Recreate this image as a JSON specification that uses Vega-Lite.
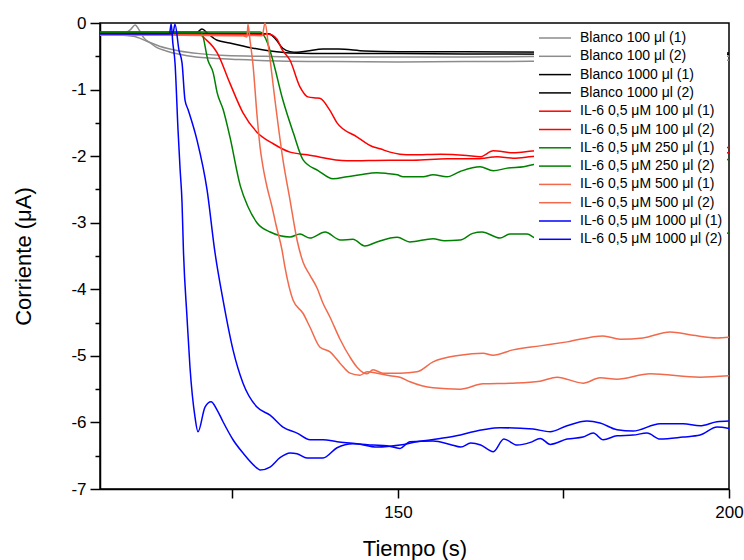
{
"$schema": "https://vega.github.io/schema/vega-lite/v6.json",
"width": 629, "height": 466,
"autosize": {"type": "none"},
"padding": {"left": 100, "top": 23, "right": 15, "bottom": 71},
"background": "white",
"config": {"view": {"stroke": "black", "strokeWidth": 1.5}, "font": "Liberation Sans"},
"data": {"values": [
{"s":"Blanco 100 μl (1)","t":105,"v":-0.15},{"s":"Blanco 100 μl (1)","t":108.5,"v":-0.15},{"s":"Blanco 100 μl (1)","t":109.6,"v":-0.1},{"s":"Blanco 100 μl (1)","t":110.3,"v":-0.03},{"s":"Blanco 100 μl (1)","t":111.0,"v":-0.12},{"s":"Blanco 100 μl (1)","t":111.6,"v":-0.22},{"s":"Blanco 100 μl (1)","t":112.6,"v":-0.3},{"s":"Blanco 100 μl (1)","t":113.6,"v":-0.37},{"s":"Blanco 100 μl (1)","t":115,"v":-0.42},{"s":"Blanco 100 μl (1)","t":117,"v":-0.47},{"s":"Blanco 100 μl (1)","t":119.5,"v":-0.51},{"s":"Blanco 100 μl (1)","t":122,"v":-0.53},{"s":"Blanco 100 μl (1)","t":126,"v":-0.55},{"s":"Blanco 100 μl (1)","t":132,"v":-0.57},{"s":"Blanco 100 μl (1)","t":140,"v":-0.58},{"s":"Blanco 100 μl (1)","t":150,"v":-0.585},{"s":"Blanco 100 μl (1)","t":160,"v":-0.58},{"s":"Blanco 100 μl (1)","t":170,"v":-0.575},{"s":"Blanco 100 μl (1)","t":180,"v":-0.57},{"s":"Blanco 100 μl (1)","t":190,"v":-0.565},{"s":"Blanco 100 μl (1)","t":200,"v":-0.56},
{"s":"Blanco 100 μl (2)","t":105,"v":-0.17},{"s":"Blanco 100 μl (2)","t":110,"v":-0.2},{"s":"Blanco 100 μl (2)","t":112,"v":-0.27},{"s":"Blanco 100 μl (2)","t":114,"v":-0.35},{"s":"Blanco 100 μl (2)","t":117,"v":-0.42},{"s":"Blanco 100 μl (2)","t":120,"v":-0.46},{"s":"Blanco 100 μl (2)","t":124,"v":-0.49},{"s":"Blanco 100 μl (2)","t":130,"v":-0.5},{"s":"Blanco 100 μl (2)","t":140,"v":-0.51},{"s":"Blanco 100 μl (2)","t":160,"v":-0.51},{"s":"Blanco 100 μl (2)","t":180,"v":-0.5},{"s":"Blanco 100 μl (2)","t":200,"v":-0.5},
{"s":"Blanco 1000 μl (1)","t":105,"v":-0.15},{"s":"Blanco 1000 μl (1)","t":119.5,"v":-0.15},{"s":"Blanco 1000 μl (1)","t":120.4,"v":-0.09},{"s":"Blanco 1000 μl (1)","t":121.3,"v":-0.16},{"s":"Blanco 1000 μl (1)","t":122.7,"v":-0.26},{"s":"Blanco 1000 μl (1)","t":124.6,"v":-0.3},{"s":"Blanco 1000 μl (1)","t":127.2,"v":-0.36},{"s":"Blanco 1000 μl (1)","t":130.7,"v":-0.42},{"s":"Blanco 1000 μl (1)","t":133.7,"v":-0.45},{"s":"Blanco 1000 μl (1)","t":140,"v":-0.46},{"s":"Blanco 1000 μl (1)","t":150,"v":-0.46},{"s":"Blanco 1000 μl (1)","t":160,"v":-0.465},{"s":"Blanco 1000 μl (1)","t":175,"v":-0.47},{"s":"Blanco 1000 μl (1)","t":190,"v":-0.47},{"s":"Blanco 1000 μl (1)","t":200,"v":-0.47},
{"s":"Blanco 1000 μl (2)","t":105,"v":-0.15},{"s":"Blanco 1000 μl (2)","t":130.5,"v":-0.16},{"s":"Blanco 1000 μl (2)","t":131.5,"v":-0.24},{"s":"Blanco 1000 μl (2)","t":132.6,"v":-0.38},{"s":"Blanco 1000 μl (2)","t":133.7,"v":-0.43},{"s":"Blanco 1000 μl (2)","t":134.8,"v":-0.44},{"s":"Blanco 1000 μl (2)","t":136.3,"v":-0.42},{"s":"Blanco 1000 μl (2)","t":138.7,"v":-0.39},{"s":"Blanco 1000 μl (2)","t":141,"v":-0.39},{"s":"Blanco 1000 μl (2)","t":145,"v":-0.42},{"s":"Blanco 1000 μl (2)","t":150,"v":-0.43},{"s":"Blanco 1000 μl (2)","t":160,"v":-0.43},{"s":"Blanco 1000 μl (2)","t":175,"v":-0.44},{"s":"Blanco 1000 μl (2)","t":190,"v":-0.44},{"s":"Blanco 1000 μl (2)","t":200,"v":-0.45},
{"s":"IL-6 0,5 μM 100 μl (1)","t":105,"v":-0.17},{"s":"IL-6 0,5 μM 100 μl (1)","t":130.5,"v":-0.17},{"s":"IL-6 0,5 μM 100 μl (1)","t":131.7,"v":-0.24},{"s":"IL-6 0,5 μM 100 μl (1)","t":132.5,"v":-0.4},{"s":"IL-6 0,5 μM 100 μl (1)","t":133.7,"v":-0.56},{"s":"IL-6 0,5 μM 100 μl (1)","t":135.2,"v":-0.96},{"s":"IL-6 0,5 μM 100 μl (1)","t":136.4,"v":-1.11},{"s":"IL-6 0,5 μM 100 μl (1)","t":137.5,"v":-1.125},{"s":"IL-6 0,5 μM 100 μl (1)","t":138.2,"v":-1.13},{"s":"IL-6 0,5 μM 100 μl (1)","t":139.7,"v":-1.31},{"s":"IL-6 0,5 μM 100 μl (1)","t":140.8,"v":-1.5},{"s":"IL-6 0,5 μM 100 μl (1)","t":143.8,"v":-1.71},{"s":"IL-6 0,5 μM 100 μl (1)","t":146.2,"v":-1.86},{"s":"IL-6 0,5 μM 100 μl (1)","t":147.3,"v":-1.89},{"s":"IL-6 0,5 μM 100 μl (1)","t":148.8,"v":-1.94},{"s":"IL-6 0,5 μM 100 μl (1)","t":150.3,"v":-1.97},{"s":"IL-6 0,5 μM 100 μl (1)","t":152.3,"v":-1.98},{"s":"IL-6 0,5 μM 100 μl (1)","t":156.4,"v":-1.97},{"s":"IL-6 0,5 μM 100 μl (1)","t":160.4,"v":-1.99},{"s":"IL-6 0,5 μM 100 μl (1)","t":162.4,"v":-2.01},{"s":"IL-6 0,5 μM 100 μl (1)","t":164.4,"v":-1.92},{"s":"IL-6 0,5 μM 100 μl (1)","t":167.4,"v":-1.95},{"s":"IL-6 0,5 μM 100 μl (1)","t":171,"v":-1.92},{"s":"IL-6 0,5 μM 100 μl (1)","t":180,"v":-1.91},{"s":"IL-6 0,5 μM 100 μl (1)","t":190,"v":-1.89},{"s":"IL-6 0,5 μM 100 μl (1)","t":200,"v":-1.87},
{"s":"IL-6 0,5 μM 100 μl (2)","t":105,"v":-0.17},{"s":"IL-6 0,5 μM 100 μl (2)","t":120,"v":-0.17},{"s":"IL-6 0,5 μM 100 μl (2)","t":120.9,"v":-0.24},{"s":"IL-6 0,5 μM 100 μl (2)","t":122.1,"v":-0.36},{"s":"IL-6 0,5 μM 100 μl (2)","t":122.7,"v":-0.45},{"s":"IL-6 0,5 μM 100 μl (2)","t":124.6,"v":-0.9},{"s":"IL-6 0,5 μM 100 μl (2)","t":126.6,"v":-1.35},{"s":"IL-6 0,5 μM 100 μl (2)","t":128.7,"v":-1.64},{"s":"IL-6 0,5 μM 100 μl (2)","t":131.1,"v":-1.81},{"s":"IL-6 0,5 μM 100 μl (2)","t":133.7,"v":-1.94},{"s":"IL-6 0,5 μM 100 μl (2)","t":136.3,"v":-1.98},{"s":"IL-6 0,5 μM 100 μl (2)","t":142.3,"v":-2.07},{"s":"IL-6 0,5 μM 100 μl (2)","t":148.8,"v":-2.06},{"s":"IL-6 0,5 μM 100 μl (2)","t":152.3,"v":-2.06},{"s":"IL-6 0,5 μM 100 μl (2)","t":157.4,"v":-2.04},{"s":"IL-6 0,5 μM 100 μl (2)","t":162,"v":-2.04},{"s":"IL-6 0,5 μM 100 μl (2)","t":165,"v":-2.01},{"s":"IL-6 0,5 μM 100 μl (2)","t":167.4,"v":-2.03},{"s":"IL-6 0,5 μM 100 μl (2)","t":171,"v":-2.0},{"s":"IL-6 0,5 μM 100 μl (2)","t":180,"v":-1.99},{"s":"IL-6 0,5 μM 100 μl (2)","t":190,"v":-1.97},{"s":"IL-6 0,5 μM 100 μl (2)","t":200,"v":-1.95},
{"s":"IL-6 0,5 μM 250 μl (1)","t":105,"v":-0.135},{"s":"IL-6 0,5 μM 250 μl (1)","t":120,"v":-0.135},{"s":"IL-6 0,5 μM 250 μl (1)","t":120.4,"v":-0.16},{"s":"IL-6 0,5 μM 250 μl (1)","t":121.3,"v":-0.56},{"s":"IL-6 0,5 μM 250 μl (1)","t":122.1,"v":-0.75},{"s":"IL-6 0,5 μM 250 μl (1)","t":122.7,"v":-1.05},{"s":"IL-6 0,5 μM 250 μl (1)","t":123.6,"v":-1.3},{"s":"IL-6 0,5 μM 250 μl (1)","t":124.6,"v":-1.7},{"s":"IL-6 0,5 μM 250 μl (1)","t":126.2,"v":-2.45},{"s":"IL-6 0,5 μM 250 μl (1)","t":127.3,"v":-2.75},{"s":"IL-6 0,5 μM 250 μl (1)","t":128.7,"v":-3.0},{"s":"IL-6 0,5 μM 250 μl (1)","t":130.7,"v":-3.14},{"s":"IL-6 0,5 μM 250 μl (1)","t":133.7,"v":-3.215},{"s":"IL-6 0,5 μM 250 μl (1)","t":135.2,"v":-3.17},{"s":"IL-6 0,5 μM 250 μl (1)","t":136.7,"v":-3.23},{"s":"IL-6 0,5 μM 250 μl (1)","t":139,"v":-3.14},{"s":"IL-6 0,5 μM 250 μl (1)","t":141.3,"v":-3.26},{"s":"IL-6 0,5 μM 250 μl (1)","t":143.2,"v":-3.25},{"s":"IL-6 0,5 μM 250 μl (1)","t":145.0,"v":-3.35},{"s":"IL-6 0,5 μM 250 μl (1)","t":146.8,"v":-3.29},{"s":"IL-6 0,5 μM 250 μl (1)","t":149.9,"v":-3.22},{"s":"IL-6 0,5 μM 250 μl (1)","t":151.8,"v":-3.29},{"s":"IL-6 0,5 μM 250 μl (1)","t":155.3,"v":-3.24},{"s":"IL-6 0,5 μM 250 μl (1)","t":157,"v":-3.27},{"s":"IL-6 0,5 μM 250 μl (1)","t":159.4,"v":-3.26},{"s":"IL-6 0,5 μM 250 μl (1)","t":161.3,"v":-3.16},{"s":"IL-6 0,5 μM 250 μl (1)","t":162.7,"v":-3.14},{"s":"IL-6 0,5 μM 250 μl (1)","t":165.4,"v":-3.23},{"s":"IL-6 0,5 μM 250 μl (1)","t":166.9,"v":-3.17},{"s":"IL-6 0,5 μM 250 μl (1)","t":169.5,"v":-3.17},{"s":"IL-6 0,5 μM 250 μl (1)","t":171,"v":-3.24},{"s":"IL-6 0,5 μM 250 μl (1)","t":175,"v":-3.2},{"s":"IL-6 0,5 μM 250 μl (1)","t":180,"v":-3.18},{"s":"IL-6 0,5 μM 250 μl (1)","t":185,"v":-3.22},{"s":"IL-6 0,5 μM 250 μl (1)","t":190,"v":-3.17},{"s":"IL-6 0,5 μM 250 μl (1)","t":195,"v":-3.19},{"s":"IL-6 0,5 μM 250 μl (1)","t":200,"v":-3.155},
{"s":"IL-6 0,5 μM 250 μl (2)","t":105,"v":-0.135},{"s":"IL-6 0,5 μM 250 μl (2)","t":129.2,"v":-0.135},{"s":"IL-6 0,5 μM 250 μl (2)","t":130.3,"v":-0.3},{"s":"IL-6 0,5 μM 250 μl (2)","t":131.1,"v":-0.56},{"s":"IL-6 0,5 μM 250 μl (2)","t":132.6,"v":-1.15},{"s":"IL-6 0,5 μM 250 μl (2)","t":134.2,"v":-1.65},{"s":"IL-6 0,5 μM 250 μl (2)","t":135.7,"v":-2.06},{"s":"IL-6 0,5 μM 250 μl (2)","t":138,"v":-2.22},{"s":"IL-6 0,5 μM 250 μl (2)","t":140.2,"v":-2.34},{"s":"IL-6 0,5 μM 250 μl (2)","t":142.3,"v":-2.31},{"s":"IL-6 0,5 μM 250 μl (2)","t":144.3,"v":-2.28},{"s":"IL-6 0,5 μM 250 μl (2)","t":146.8,"v":-2.25},{"s":"IL-6 0,5 μM 250 μl (2)","t":148.3,"v":-2.26},{"s":"IL-6 0,5 μM 250 μl (2)","t":149.9,"v":-2.28},{"s":"IL-6 0,5 μM 250 μl (2)","t":150.8,"v":-2.31},{"s":"IL-6 0,5 μM 250 μl (2)","t":153.8,"v":-2.31},{"s":"IL-6 0,5 μM 250 μl (2)","t":155.3,"v":-2.28},{"s":"IL-6 0,5 μM 250 μl (2)","t":157.4,"v":-2.31},{"s":"IL-6 0,5 μM 250 μl (2)","t":159.4,"v":-2.23},{"s":"IL-6 0,5 μM 250 μl (2)","t":162.4,"v":-2.16},{"s":"IL-6 0,5 μM 250 μl (2)","t":164.4,"v":-2.22},{"s":"IL-6 0,5 μM 250 μl (2)","t":166.5,"v":-2.18},{"s":"IL-6 0,5 μM 250 μl (2)","t":169,"v":-2.16},{"s":"IL-6 0,5 μM 250 μl (2)","t":171,"v":-2.12},{"s":"IL-6 0,5 μM 250 μl (2)","t":180,"v":-2.12},{"s":"IL-6 0,5 μM 250 μl (2)","t":190,"v":-2.1},{"s":"IL-6 0,5 μM 250 μl (2)","t":200,"v":-2.05},
{"s":"IL-6 0,5 μM 500 μl (1)","t":105,"v":-0.18},{"s":"IL-6 0,5 μM 500 μl (1)","t":126.6,"v":-0.19},{"s":"IL-6 0,5 μM 500 μl (1)","t":127.2,"v":-0.21},{"s":"IL-6 0,5 μM 500 μl (1)","t":127.35,"v":-0.02},{"s":"IL-6 0,5 μM 500 μl (1)","t":127.66,"v":-0.26},{"s":"IL-6 0,5 μM 500 μl (1)","t":128.11,"v":-0.63},{"s":"IL-6 0,5 μM 500 μl (1)","t":128.71,"v":-1.38},{"s":"IL-6 0,5 μM 500 μl (1)","t":129.17,"v":-1.86},{"s":"IL-6 0,5 μM 500 μl (1)","t":129.62,"v":-2.16},{"s":"IL-6 0,5 μM 500 μl (1)","t":130.22,"v":-2.46},{"s":"IL-6 0,5 μM 500 μl (1)","t":130.98,"v":-2.76},{"s":"IL-6 0,5 μM 500 μl (1)","t":131.58,"v":-3.03},{"s":"IL-6 0,5 μM 500 μl (1)","t":132.49,"v":-3.41},{"s":"IL-6 0,5 μM 500 μl (1)","t":132.94,"v":-3.67},{"s":"IL-6 0,5 μM 500 μl (1)","t":134.15,"v":-4.16},{"s":"IL-6 0,5 μM 500 μl (1)","t":135.66,"v":-4.36},{"s":"IL-6 0,5 μM 500 μl (1)","t":136.72,"v":-4.57},{"s":"IL-6 0,5 μM 500 μl (1)","t":138.23,"v":-4.87},{"s":"IL-6 0,5 μM 500 μl (1)","t":139.74,"v":-4.94},{"s":"IL-6 0,5 μM 500 μl (1)","t":141.25,"v":-5.11},{"s":"IL-6 0,5 μM 500 μl (1)","t":142.76,"v":-5.26},{"s":"IL-6 0,5 μM 500 μl (1)","t":144.27,"v":-5.29},{"s":"IL-6 0,5 μM 500 μl (1)","t":145.33,"v":-5.24},{"s":"IL-6 0,5 μM 500 μl (1)","t":146.84,"v":-5.26},{"s":"IL-6 0,5 μM 500 μl (1)","t":148.8,"v":-5.3},{"s":"IL-6 0,5 μM 500 μl (1)","t":150.31,"v":-5.32},{"s":"IL-6 0,5 μM 500 μl (1)","t":151.82,"v":-5.39},{"s":"IL-6 0,5 μM 500 μl (1)","t":155.3,"v":-5.48},{"s":"IL-6 0,5 μM 500 μl (1)","t":159.38,"v":-5.5},{"s":"IL-6 0,5 μM 500 μl (1)","t":162.85,"v":-5.42},{"s":"IL-6 0,5 μM 500 μl (1)","t":167.38,"v":-5.41},{"s":"IL-6 0,5 μM 500 μl (1)","t":171.46,"v":-5.38},{"s":"IL-6 0,5 μM 500 μl (1)","t":174.03,"v":-5.32},{"s":"IL-6 0,5 μM 500 μl (1)","t":177.96,"v":-5.41},{"s":"IL-6 0,5 μM 500 μl (1)","t":180.53,"v":-5.33},{"s":"IL-6 0,5 μM 500 μl (1)","t":183.09,"v":-5.35},{"s":"IL-6 0,5 μM 500 μl (1)","t":188.08,"v":-5.27},{"s":"IL-6 0,5 μM 500 μl (1)","t":195.63,"v":-5.32},{"s":"IL-6 0,5 μM 500 μl (1)","t":200,"v":-5.3},
{"s":"IL-6 0,5 μM 500 μl (2)","t":105,"v":-0.18},{"s":"IL-6 0,5 μM 500 μl (2)","t":129.5,"v":-0.19},{"s":"IL-6 0,5 μM 500 μl (2)","t":129.92,"v":0.0},{"s":"IL-6 0,5 μM 500 μl (2)","t":130.5,"v":-0.4},{"s":"IL-6 0,5 μM 500 μl (2)","t":131.43,"v":-1.16},{"s":"IL-6 0,5 μM 500 μl (2)","t":132.64,"v":-2.06},{"s":"IL-6 0,5 μM 500 μl (2)","t":133.7,"v":-2.66},{"s":"IL-6 0,5 μM 500 μl (2)","t":134.76,"v":-3.26},{"s":"IL-6 0,5 μM 500 μl (2)","t":135.66,"v":-3.59},{"s":"IL-6 0,5 μM 500 μl (2)","t":136.72,"v":-3.79},{"s":"IL-6 0,5 μM 500 μl (2)","t":137.78,"v":-3.98},{"s":"IL-6 0,5 μM 500 μl (2)","t":138.68,"v":-4.21},{"s":"IL-6 0,5 μM 500 μl (2)","t":139.74,"v":-4.42},{"s":"IL-6 0,5 μM 500 μl (2)","t":141.25,"v":-4.75},{"s":"IL-6 0,5 μM 500 μl (2)","t":142.76,"v":-5.02},{"s":"IL-6 0,5 μM 500 μl (2)","t":143.82,"v":-5.17},{"s":"IL-6 0,5 μM 500 μl (2)","t":145.33,"v":-5.27},{"s":"IL-6 0,5 μM 500 μl (2)","t":146.24,"v":-5.21},{"s":"IL-6 0,5 μM 500 μl (2)","t":147.75,"v":-5.26},{"s":"IL-6 0,5 μM 500 μl (2)","t":150.31,"v":-5.26},{"s":"IL-6 0,5 μM 500 μl (2)","t":152.88,"v":-5.24},{"s":"IL-6 0,5 μM 500 μl (2)","t":155.3,"v":-5.09},{"s":"IL-6 0,5 μM 500 μl (2)","t":159.38,"v":-4.99},{"s":"IL-6 0,5 μM 500 μl (2)","t":162.85,"v":-4.96},{"s":"IL-6 0,5 μM 500 μl (2)","t":164.36,"v":-4.99},{"s":"IL-6 0,5 μM 500 μl (2)","t":167.38,"v":-4.91},{"s":"IL-6 0,5 μM 500 μl (2)","t":171.46,"v":-4.85},{"s":"IL-6 0,5 μM 500 μl (2)","t":175.54,"v":-4.79},{"s":"IL-6 0,5 μM 500 μl (2)","t":180.98,"v":-4.7},{"s":"IL-6 0,5 μM 500 μl (2)","t":183.55,"v":-4.75},{"s":"IL-6 0,5 μM 500 μl (2)","t":187.02,"v":-4.73},{"s":"IL-6 0,5 μM 500 μl (2)","t":191.1,"v":-4.64},{"s":"IL-6 0,5 μM 500 μl (2)","t":194.57,"v":-4.69},{"s":"IL-6 0,5 μM 500 μl (2)","t":198.2,"v":-4.73},{"s":"IL-6 0,5 μM 500 μl (2)","t":200,"v":-4.72},
{"s":"IL-6 0,5 μM 1000 μl (1)","t":105,"v":-0.16},{"s":"IL-6 0,5 μM 1000 μl (1)","t":115.5,"v":-0.16},{"s":"IL-6 0,5 μM 1000 μl (1)","t":115.75,"v":-0.01},{"s":"IL-6 0,5 μM 1000 μl (1)","t":116.0,"v":-0.3},{"s":"IL-6 0,5 μM 1000 μl (1)","t":116.33,"v":-0.6},{"s":"IL-6 0,5 μM 1000 μl (1)","t":116.78,"v":-1.6},{"s":"IL-6 0,5 μM 1000 μl (1)","t":117.1,"v":-2.2},{"s":"IL-6 0,5 μM 1000 μl (1)","t":117.39,"v":-2.7},{"s":"IL-6 0,5 μM 1000 μl (1)","t":117.6,"v":-3.41},{"s":"IL-6 0,5 μM 1000 μl (1)","t":118.14,"v":-4.42},{"s":"IL-6 0,5 μM 1000 μl (1)","t":118.59,"v":-5.17},{"s":"IL-6 0,5 μM 1000 μl (1)","t":119.35,"v":-5.92},{"s":"IL-6 0,5 μM 1000 μl (1)","t":119.8,"v":-6.14},{"s":"IL-6 0,5 μM 1000 μl (1)","t":120.86,"v":-5.77},{"s":"IL-6 0,5 μM 1000 μl (1)","t":121.77,"v":-5.69},{"s":"IL-6 0,5 μM 1000 μl (1)","t":122.67,"v":-5.81},{"s":"IL-6 0,5 μM 1000 μl (1)","t":123.58,"v":-5.99},{"s":"IL-6 0,5 μM 1000 μl (1)","t":125.09,"v":-6.26},{"s":"IL-6 0,5 μM 1000 μl (1)","t":126.6,"v":-6.46},{"s":"IL-6 0,5 μM 1000 μl (1)","t":128.71,"v":-6.685},{"s":"IL-6 0,5 μM 1000 μl (1)","t":129.17,"v":-6.715},{"s":"IL-6 0,5 μM 1000 μl (1)","t":130.68,"v":-6.67},{"s":"IL-6 0,5 μM 1000 μl (1)","t":132.19,"v":-6.53},{"s":"IL-6 0,5 μM 1000 μl (1)","t":133.7,"v":-6.46},{"s":"IL-6 0,5 μM 1000 μl (1)","t":134.76,"v":-6.47},{"s":"IL-6 0,5 μM 1000 μl (1)","t":136.27,"v":-6.535},{"s":"IL-6 0,5 μM 1000 μl (1)","t":138.68,"v":-6.535},{"s":"IL-6 0,5 μM 1000 μl (1)","t":140.8,"v":-6.38},{"s":"IL-6 0,5 μM 1000 μl (1)","t":143.22,"v":-6.32},{"s":"IL-6 0,5 μM 1000 μl (1)","t":146.24,"v":-6.34},{"s":"IL-6 0,5 μM 1000 μl (1)","t":148.35,"v":-6.35},{"s":"IL-6 0,5 μM 1000 μl (1)","t":150.31,"v":-6.39},{"s":"IL-6 0,5 μM 1000 μl (1)","t":151.82,"v":-6.29},{"s":"IL-6 0,5 μM 1000 μl (1)","t":155.3,"v":-6.28},{"s":"IL-6 0,5 μM 1000 μl (1)","t":157.87,"v":-6.33},{"s":"IL-6 0,5 μM 1000 μl (1)","t":159.5,"v":-6.37},{"s":"IL-6 0,5 μM 1000 μl (1)","t":161.0,"v":-6.31},{"s":"IL-6 0,5 μM 1000 μl (1)","t":162.5,"v":-6.34},{"s":"IL-6 0,5 μM 1000 μl (1)","t":164.4,"v":-6.44},{"s":"IL-6 0,5 μM 1000 μl (1)","t":166.0,"v":-6.25},{"s":"IL-6 0,5 μM 1000 μl (1)","t":168.0,"v":-6.34},{"s":"IL-6 0,5 μM 1000 μl (1)","t":170.0,"v":-6.3},{"s":"IL-6 0,5 μM 1000 μl (1)","t":171.5,"v":-6.24},{"s":"IL-6 0,5 μM 1000 μl (1)","t":173.0,"v":-6.33},{"s":"IL-6 0,5 μM 1000 μl (1)","t":175.54,"v":-6.25},{"s":"IL-6 0,5 μM 1000 μl (1)","t":177.96,"v":-6.22},{"s":"IL-6 0,5 μM 1000 μl (1)","t":179.5,"v":-6.16},{"s":"IL-6 0,5 μM 1000 μl (1)","t":181.0,"v":-6.26},{"s":"IL-6 0,5 μM 1000 μl (1)","t":183.09,"v":-6.2},{"s":"IL-6 0,5 μM 1000 μl (1)","t":185.51,"v":-6.19},{"s":"IL-6 0,5 μM 1000 μl (1)","t":187.62,"v":-6.16},{"s":"IL-6 0,5 μM 1000 μl (1)","t":189.59,"v":-6.25},{"s":"IL-6 0,5 μM 1000 μl (1)","t":193.06,"v":-6.22},{"s":"IL-6 0,5 μM 1000 μl (1)","t":195.63,"v":-6.19},{"s":"IL-6 0,5 μM 1000 μl (1)","t":198.2,"v":-6.07},{"s":"IL-6 0,5 μM 1000 μl (1)","t":200,"v":-6.09},
{"s":"IL-6 0,5 μM 1000 μl (2)","t":105,"v":-0.16},{"s":"IL-6 0,5 μM 1000 μl (2)","t":116.0,"v":-0.16},{"s":"IL-6 0,5 μM 1000 μl (2)","t":116.33,"v":-0.02},{"s":"IL-6 0,5 μM 1000 μl (2)","t":116.93,"v":-0.41},{"s":"IL-6 0,5 μM 1000 μl (2)","t":117.39,"v":-0.6},{"s":"IL-6 0,5 μM 1000 μl (2)","t":117.84,"v":-1.16},{"s":"IL-6 0,5 μM 1000 μl (2)","t":118.3,"v":-1.3},{"s":"IL-6 0,5 μM 1000 μl (2)","t":119.65,"v":-1.76},{"s":"IL-6 0,5 μM 1000 μl (2)","t":121.16,"v":-2.5},{"s":"IL-6 0,5 μM 1000 μl (2)","t":122.37,"v":-3.45},{"s":"IL-6 0,5 μM 1000 μl (2)","t":123.58,"v":-4.16},{"s":"IL-6 0,5 μM 1000 μl (2)","t":125.09,"v":-4.91},{"s":"IL-6 0,5 μM 1000 μl (2)","t":126.6,"v":-5.41},{"s":"IL-6 0,5 μM 1000 μl (2)","t":128.71,"v":-5.77},{"s":"IL-6 0,5 μM 1000 μl (2)","t":130.68,"v":-5.89},{"s":"IL-6 0,5 μM 1000 μl (2)","t":132.64,"v":-6.07},{"s":"IL-6 0,5 μM 1000 μl (2)","t":134.76,"v":-6.16},{"s":"IL-6 0,5 μM 1000 μl (2)","t":136.72,"v":-6.26},{"s":"IL-6 0,5 μM 1000 μl (2)","t":138.68,"v":-6.26},{"s":"IL-6 0,5 μM 1000 μl (2)","t":140.8,"v":-6.29},{"s":"IL-6 0,5 μM 1000 μl (2)","t":143.82,"v":-6.32},{"s":"IL-6 0,5 μM 1000 μl (2)","t":146.84,"v":-6.37},{"s":"IL-6 0,5 μM 1000 μl (2)","t":150.31,"v":-6.34},{"s":"IL-6 0,5 μM 1000 μl (2)","t":152.88,"v":-6.29},{"s":"IL-6 0,5 μM 1000 μl (2)","t":157.87,"v":-6.22},{"s":"IL-6 0,5 μM 1000 μl (2)","t":162.85,"v":-6.11},{"s":"IL-6 0,5 μM 1000 μl (2)","t":165.42,"v":-6.08},{"s":"IL-6 0,5 μM 1000 μl (2)","t":170.41,"v":-6.1},{"s":"IL-6 0,5 μM 1000 μl (2)","t":172.97,"v":-6.14},{"s":"IL-6 0,5 μM 1000 μl (2)","t":175.54,"v":-6.05},{"s":"IL-6 0,5 μM 1000 μl (2)","t":178.56,"v":-5.98},{"s":"IL-6 0,5 μM 1000 μl (2)","t":180.53,"v":-6.01},{"s":"IL-6 0,5 μM 1000 μl (2)","t":183.09,"v":-6.11},{"s":"IL-6 0,5 μM 1000 μl (2)","t":185.51,"v":-6.13},{"s":"IL-6 0,5 μM 1000 μl (2)","t":189.59,"v":-6.02},{"s":"IL-6 0,5 μM 1000 μl (2)","t":193.06,"v":-6.02},{"s":"IL-6 0,5 μM 1000 μl (2)","t":195.63,"v":-6.05},{"s":"IL-6 0,5 μM 1000 μl (2)","t":198.2,"v":-5.99},{"s":"IL-6 0,5 μM 1000 μl (2)","t":200,"v":-5.98}
]},
"mark": {"type": "line", "strokeWidth": 1.5, "interpolate": "monotone"},
"encoding": {
"x": {"field": "t", "type": "quantitative", "scale": {"domain": [105, 200], "nice": false, "zero": false},
 "axis": {"title": "Tiempo (s)", "values": [125, 150, 175, 200], "labelExpr": "datum.value % 50 === 0 ? '' + datum.value : ''", "grid": false, "domainColor": "black", "domainWidth": 1.5, "tickColor": "black", "tickWidth": 1.5, "tickSize": 9, "labelFontSize": 17, "labelColor": "black", "labelPadding": 6, "labelFont": "Liberation Sans", "labelFlush": false, "labelOverlap": false, "labelBound": false, "titleFont": "Liberation Sans", "titleFontSize": 22, "titleFontWeight": "normal", "titleColor": "black", "titleY": 49}},
"y": {"field": "v", "type": "quantitative", "scale": {"domain": [-7, 0], "nice": false, "zero": false},
 "axis": {"title": "Corriente (μA)", "values": [-7, -6.5, -6, -5.5, -5, -4.5, -4, -3.5, -3, -2.5, -2, -1.5, -1, -0.5, 0], "labelExpr": "datum.value % 1 === 0 ? '' + datum.value : ''", "grid": false, "domainColor": "black", "domainWidth": 1.5, "tickColor": "black", "tickWidth": 1.5, "tickSize": {"condition": {"test": "datum.value % 1 === 0", "value": 10}, "value": 5}, "labelFontSize": 17, "labelColor": "black", "labelPadding": 4, "labelFont": "Liberation Sans", "labelFlush": false, "labelOverlap": false, "labelBound": false, "titleFont": "Liberation Sans", "titleFontSize": 22, "titleFontWeight": "normal", "titleColor": "black", "titleX": -65}},
"color": {"field": "s", "type": "nominal", "title": null,
 "scale": {"domain": ["Blanco 100 μl (1)", "Blanco 100 μl (2)", "Blanco 1000 μl (1)", "Blanco 1000 μl (2)", "IL-6 0,5 μM 100 μl (1)", "IL-6 0,5 μM 100 μl (2)", "IL-6 0,5 μM 250 μl (1)", "IL-6 0,5 μM 250 μl (2)", "IL-6 0,5 μM 500 μl (1)", "IL-6 0,5 μM 500 μl (2)", "IL-6 0,5 μM 1000 μl (1)", "IL-6 0,5 μM 1000 μl (2)"],
  "range": ["#8c8c8c", "#8c8c8c", "#000000", "#000000", "#ff0000", "#ff0000", "#008000", "#008000", "#f26a4b", "#f26a4b", "#0000ff", "#0000ff"]},
 "legend": {"orient": "top-right", "offset": 2, "padding": 4, "fillColor": "white", "labelFont": "Liberation Sans", "labelFontSize": 14, "labelColor": "black", "labelLimit": 300, "symbolType": "M-2,0H2", "symbolSize": 256, "symbolStrokeWidth": 1.5, "symbolOffset": 8, "labelOffset": 16, "rowPadding": 2.3}}
}
}
